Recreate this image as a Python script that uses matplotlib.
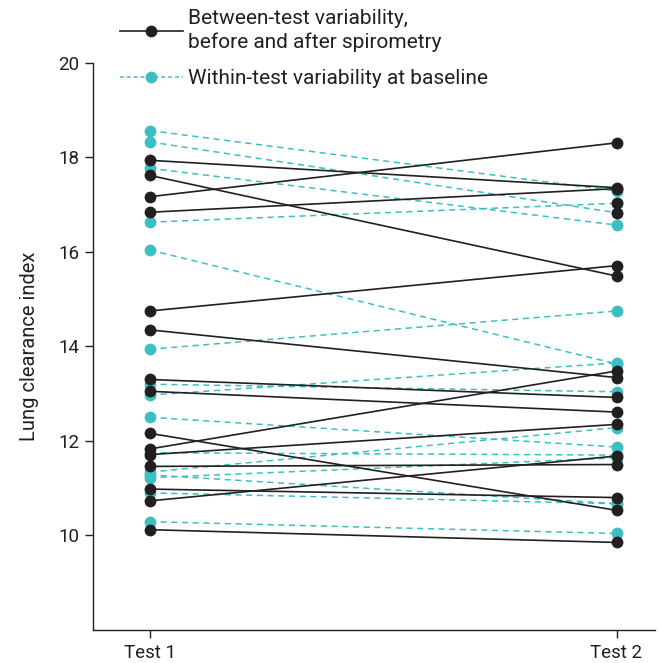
import matplotlib.pyplot as plt
from matplotlib.lines import Line2D

plt.rcParams['font.family'] = ['Roboto', 'DejaVu Sans']

tests = ["Test 1", "Test 2"]

# between-test variability, before and after spirometry
between_t1 = [17.94, 17.62, 17.17, 16.84, 14.75, 14.35, 13.30, 13.05, 12.16, 11.83, 11.71, 11.46, 10.98, 10.73, 10.12]
between_t2 = [17.36, 15.49, 18.31, 17.34, 15.71, 13.34, 12.92, 12.61, 10.53, 13.48, 12.35, 11.50, 10.80, 11.68, 9.85]

# within-test variability at baseline
within_t1 = [18.57, 18.33, 17.77, 16.63, 16.04, 13.94, 13.20, 12.97, 12.50, 11.75, 11.34, 11.28, 11.22, 10.90, 10.29]
within_t2 = [17.29, 16.83, 16.57, 17.03, 13.63, 14.75, 13.04, 13.65, 11.87, 11.70, 12.28, 10.67, 11.64, 10.67, 10.04]

# within-test pairs whose Test 2 dot is printed dark in the original
dark_ends = [1, 3]

dark = '#231f20'
teal = '#3bbfc3'

fig = plt.figure(figsize=(6.6, 6.63), dpi=100)
ax = fig.add_axes([0.141, 0.050, 0.851, 0.855])

x = [0, 1]
for a, b in zip(within_t1, within_t2):
    ax.plot(x, [a, b], color=teal, lw=1.1, ls=(0, (4, 3)), marker='o', ms=8.5,
            mfc=teal, mec='none', zorder=2)
ax.plot([1] * len(dark_ends), [within_t2[i] for i in dark_ends], 'o', ms=8.5,
        mfc=dark, mec='none', zorder=3)
for a, b in zip(between_t1, between_t2):
    ax.plot(x, [a, b], color=dark, lw=1.2, marker='o', ms=8.5,
            mfc=dark, mec='none', zorder=3)

ax.set_xlim(-0.1217, 1.0818)
ax.set_ylim(8, 20)
ax.set_yticks([10, 12, 14, 16, 18, 20])
ax.set_xticks(x)
ax.set_xticklabels(tests)
ax.set_ylabel("Lung clearance index", fontsize=14.5, color=dark, labelpad=14)

for s in ['top', 'right']:
    ax.spines[s].set_visible(False)
for s in ['left', 'bottom']:
    ax.spines[s].set_color(dark)
    ax.spines[s].set_linewidth(1)
ax.tick_params(direction='out', length=6, width=1, color=dark, labelcolor=dark,
               labelsize=13.5, pad=4)

handles = [
    Line2D([], [], color=dark, lw=1.2, marker='o', ms=8.5, mfc=dark, mec='none'),
    Line2D([], [], color=teal, lw=1.1, ls=(0, (2.5, 2)), marker='o', ms=8.5, mfc=teal, mec='none'),
]
labels = ["Between-test variability,\nbefore and after spirometry",
          "Within-test variability at baseline"]
leg = ax.legend(handles, labels, loc='upper left', bbox_to_anchor=(120 / 660, 1 - 9 / 663),
                bbox_transform=fig.transFigure, frameon=False, handlelength=3.0,
                handletextpad=0.25, labelspacing=0.8, fontsize=15, borderaxespad=0,
                borderpad=0, labelcolor=dark)
for t in leg.get_texts():
    t.set_linespacing(1.3)

fig.savefig('out.png', dpi=100)
